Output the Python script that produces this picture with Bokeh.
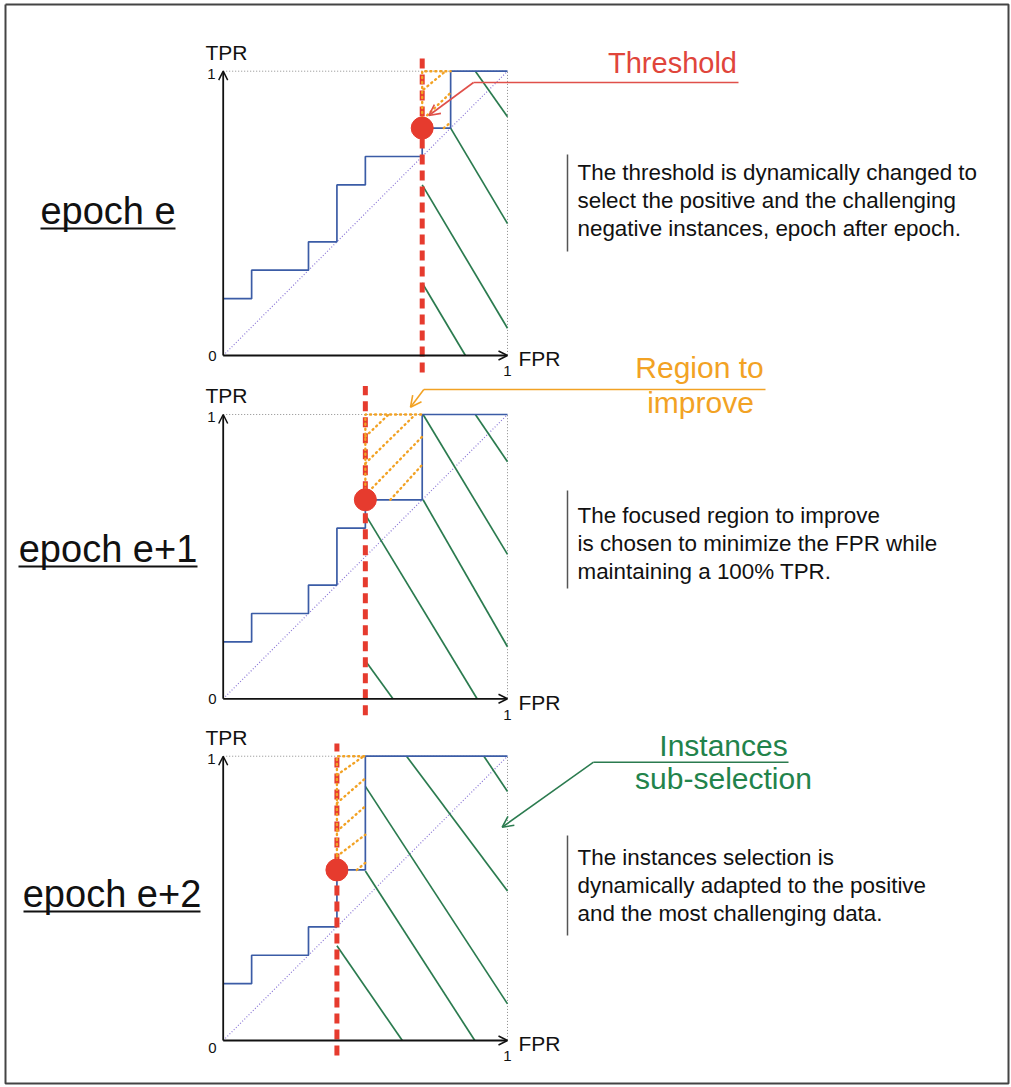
import numpy as np
from bokeh.plotting import figure
from bokeh.models import Range1d, Arrow, OpenHead
from bokeh.embed import file_html
from bokeh.resources import INLINE
from bokeh.core.properties import value

# ---------------- data ----------------
epoch_labels = ["epoch e", "epoch e+1", "epoch e+2"]

roc_fpr = [
    [0, 0.1, 0.1, 0.3, 0.3, 0.4, 0.4, 0.5, 0.5, 0.7, 0.7, 0.8, 0.8, 1.0],
    [0, 0.1, 0.1, 0.3, 0.3, 0.4, 0.4, 0.5, 0.5, 0.7, 0.7, 1.0],
    [0, 0.1, 0.1, 0.3, 0.3, 0.4, 0.4, 0.5, 0.5, 1.0],
]
roc_tpr = [
    [0.2, 0.2, 0.3, 0.3, 0.4, 0.4, 0.6, 0.6, 0.7, 0.7, 0.8, 0.8, 1.0, 1.0],
    [0.2, 0.2, 0.3, 0.3, 0.4, 0.4, 0.6, 0.6, 0.7, 0.7, 1.0, 1.0],
    [0.2, 0.2, 0.3, 0.3, 0.4, 0.4, 0.6, 0.6, 1.0, 1.0],
]
threshold_fpr = [0.7, 0.5, 0.4]
threshold_tpr = [0.8, 0.7, 0.6]
threshold_lo = [-0.06, -0.058, -0.053]
threshold_hi = [1.063, 1.10, 1.045]
region_right_fpr = [0.8, 0.7, 0.5]

# orange "region to improve" hatch segments (x0, y0, x1, y1)
orange_x0 = [[0.705, 0.717, 0.776], [0.5, 0.5, 0.512, 0.588], [0.4, 0.4, 0.4, 0.4, 0.47]]
orange_y0 = [[0.936, 0.845, 0.80], [0.922, 0.828, 0.729, 0.70], [0.934, 0.835, 0.736, 0.648, 0.60]]
orange_x1 = [[0.782, 0.80, 0.80], [0.582, 0.676, 0.70, 0.70], [0.494, 0.5, 0.5, 0.5, 0.5]]
orange_y1 = [[1.0, 0.924, 0.82], [1.0, 1.0, 0.922, 0.823], [1.0, 0.922, 0.824, 0.724, 0.625]]

# green "instances sub-selection" hatch segments
green_x0 = [[0.887, 0.8, 0.7, 0.7], [0.887, 0.703, 0.703, 0.5, 0.5], [0.917, 0.645, 0.5, 0.5, 0.4]]
green_y0 = [[1.0, 0.8, 0.6, 0.255], [1.0, 1.0, 0.70, 0.648, 0.134], [1.0, 1.0, 0.894, 0.596, 0.333]]
green_x1 = [[1.0, 1.0, 1.0, 0.852], [1.0, 1.0, 1.0, 0.893, 0.597], [1.0, 1.0, 1.0, 0.885, 0.63]]
green_y1 = [[0.84, 0.464, 0.096, 0.0], [0.834, 0.508, 0.183, 0.0, 0.0], [0.876, 0.526, 0.129, 0.0, 0.0]]

descriptions = [
    ["The threshold is dynamically changed to",
     "select the positive and the challenging",
     "negative instances, epoch after epoch."],
    ["The focused region to improve",
     "is chosen to minimize the FPR while",
     "maintaining a 100% TPR."],
    ["The instances selection is",
     "dynamically adapted to the positive",
     "and the most challenging data."],
]
callout_lines = [["Threshold"], ["Region to", "improve"], ["Instances", "sub-selection"]]

# ---------------- layout / style ----------------
FONT = "Liberation Sans"
BLUE = "#3b5ca6"
GREEN = "#2b7b4f"
RED = "#e63b2e"
ORANGE = "#f2a224"
BLACK = "#111111"

W, H = 1011, 1087
S = 284.3            # pixels per ROC unit
OX, OY = 222.7, 355.0


def X(px):
    return (px - OX) / S


def Y(py):
    return (OY - py) / S


panel_offset = [0.0, -1.2075, -2.4095]

p = figure(width=W, height=H,
           x_range=Range1d(X(0), X(W)), y_range=Range1d(Y(H), Y(0)),
           output_backend="svg", toolbar_location=None, min_border=0,
           x_axis_location=None, y_axis_location=None)
p.grid.visible = False
p.outline_line_color = None
p.background_fill_color = "white"
p.border_fill_color = "white"

# outer frame
p.line([X(5), X(1008), X(1008), X(5), X(5)], [Y(4), Y(4), Y(1083), Y(1083), Y(4)],
       line_color="#444444", line_width=2)


def txt(xs, ys, texts, size, color=BLACK, align="left"):
    p.text(x=xs, y=ys, text=texts, text_font=value(FONT),
           text_font_size=value(size), text_color=color,
           text_align=align, text_baseline="middle")


for k in range(3):
    off = panel_offset[k]
    p.line([0, 1, 1], [off + 1, off + 1, off], line_color="#8c8c8c",
           line_width=1, line_dash="1 2")
    p.line([0, 1], [off, off + 1], line_color="#8a76d6", line_width=1.2, line_dash="1 2")
    p.segment(x0=green_x0[k], y0=np.array(green_y0[k]) + off,
              x1=green_x1[k], y1=np.array(green_y1[k]) + off,
              line_color=GREEN, line_width=1.7)
    p.line(roc_fpr[k], np.array(roc_tpr[k]) + off, line_color=BLUE, line_width=1.7)
    p.segment(x0=[threshold_fpr[k]], y0=[threshold_lo[k] + off],
              x1=[threshold_fpr[k]], y1=[threshold_hi[k] + off],
              line_color=RED, line_width=5, line_dash="10 6")
    p.line([threshold_fpr[k], threshold_fpr[k], region_right_fpr[k]],
           [threshold_tpr[k] + off, off + 1, off + 1],
           line_color=ORANGE, line_width=2.4, line_dash="1 4", line_cap="round")
    p.segment(x0=orange_x0[k], y0=np.array(orange_y0[k]) + off,
              x1=orange_x1[k], y1=np.array(orange_y1[k]) + off,
              line_color=ORANGE, line_width=2.4, line_dash="1 4", line_cap="round")
    p.add_layout(Arrow(end=OpenHead(size=9, line_width=1.5, line_color=BLACK),
                       x_start=0, y_start=off, x_end=0, y_end=off + 1,
                       line_width=1.8, line_color=BLACK))
    p.add_layout(Arrow(end=OpenHead(size=9, line_width=1.5, line_color=BLACK),
                       x_start=0, y_start=off, x_end=1, y_end=off,
                       line_width=1.8, line_color=BLACK))
    txt([X(205)], [off + 1.066], ["TPR"], "21px")
    txt([X(215)], [off + 0.99], ["1"], "15px", align="right")
    txt([X(212)], [off + (0.0 if k < 2 else -0.025)], ["0"], "15px", align="center")
    txt([X(518)], [off - 0.012], ["FPR"], "21px")
    txt([1.0], [off - 0.056], ["1"], "15px", align="center")

p.scatter(x=threshold_fpr, y=np.array(threshold_tpr) + np.array(panel_offset),
          size=22, fill_color=RED, line_color=RED)

# epoch labels with underline
epoch_cx = [107.5, 107.5, 111.5]
epoch_mid = [210, 548, 893]
epoch_ul = [228, 566, 911]
epoch_l = [40, 18, 23]
epoch_r = [175, 197, 200]
txt([X(c) for c in epoch_cx], [Y(b) for b in epoch_mid], epoch_labels, "38px", align="center")
p.segment(x0=[X(v) for v in epoch_l], y0=[Y(b) for b in epoch_ul],
          x1=[X(v) for v in epoch_r], y1=[Y(b) for b in epoch_ul],
          line_color=BLACK, line_width=2)

# description blocks with gray bar
desc_mid = [172, 515, 857]
bar_top = [154, 490, 835]
bar_bot = [251, 588, 935]
for k in range(3):
    ys = [Y(desc_mid[k] + 28 * i) for i in range(3)]
    txt([X(577)] * 3, ys, descriptions[k], "22.4px")
p.segment(x0=[X(567)] * 3, y0=[Y(v) for v in bar_top],
          x1=[X(567)] * 3, y1=[Y(v) for v in bar_bot],
          line_color="#555555", line_width=1.5)

# callouts
txt([X(672)], [Y(62.5)], callout_lines[0], "29px", color="#e0453b", align="center")
txt([X(699), X(700)], [Y(366.5), Y(401.5)], callout_lines[1], "30px", color=ORANGE, align="center")
txt([X(723), X(723)], [Y(744.5), Y(777.5)], callout_lines[2], "30px", color="#22834b", align="center")

callout_px = [
    ([738, 473, 428.3], [82, 82, 115], "#e0504a"),
    ([765, 423.3, 410], [389, 389, 406.7], ORANGE),
    ([788, 593, 501.7], [761.7, 761.7, 826.7], GREEN),
]
for xs, ys, col in callout_px:
    p.line([X(v) for v in xs[:2]], [Y(v) for v in ys[:2]], line_color=col, line_width=1.6)
    p.add_layout(Arrow(end=OpenHead(size=11, line_width=1.6, line_color=col),
                       x_start=X(xs[1]), y_start=Y(ys[1]), x_end=X(xs[2]), y_end=Y(ys[2]),
                       line_width=1.6, line_color=col))

open("out.html", "w").write(file_html(p, INLINE))
